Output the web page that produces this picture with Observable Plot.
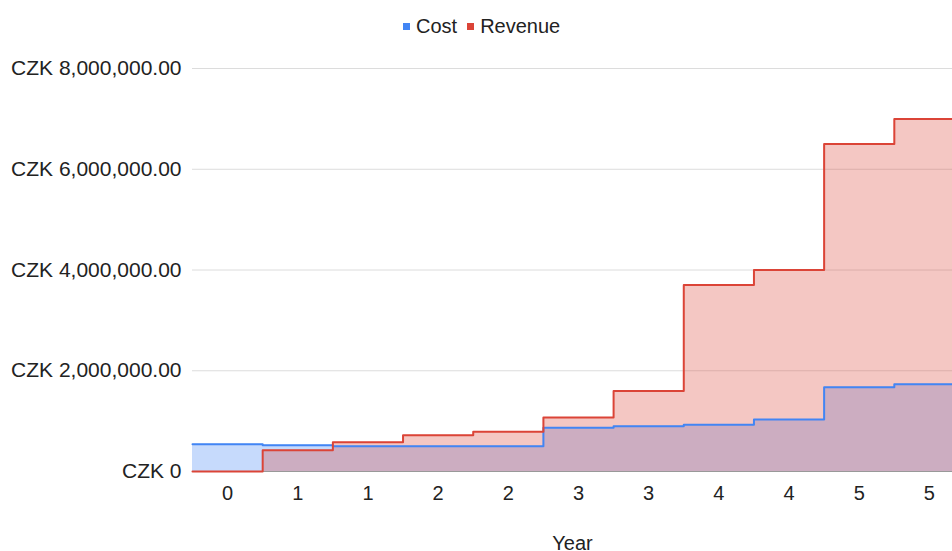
<!DOCTYPE html>
<html>
<head>
<meta charset="utf-8">
<script src="https://cdn.jsdelivr.net/npm/d3@7"></script>
<script src="https://cdn.jsdelivr.net/npm/@observablehq/plot@0.6"></script>
<style>
  html, body { margin: 0; padding: 0; background: #fff; overflow: hidden; }
  body { width: 952px; height: 551px; font-family: "Liberation Sans", Arial, sans-serif; }
  #legend { height: 52px; display: flex; align-items: center; padding-left: 403px; font-size: 20px; color: #222; }
  #legend .item { display: flex; align-items: center; margin-right: 10px; }
  #legend .swatch { width: 7px; height: 7px; margin-right: 6px; }
  #chart svg { display: block; }
</style>
</head>
<body>
<div id="legend"></div>
<div id="chart"></div>
<script>
// Year labels for each period (two periods per year after year 0)
const years = ["0", "1", "1", "2", "2", "3", "3", "4", "4", "5", "5"];
// Cost per period, CZK
const cost = [540000, 520000, 500000, 500000, 500000, 870000, 900000, 930000, 1030000, 1670000, 1730000];
// Revenue per period, CZK
const revenue = [0, 420000, 580000, 720000, 790000, 1070000, 1600000, 3700000, 4000000, 6500000, 7000000];
// Y axis ticks
const yTicks = [0, 2000000, 4000000, 6000000, 8000000];

const seriesNames = ["Cost", "Revenue"];
const seriesColors = ["#4285f4", "#db4437"];
const seriesValues = [cost, revenue];

// Each period becomes a flat step spanning its band
const steps = seriesNames.flatMap((name, s) =>
  seriesValues[s].flatMap((v, i) => [
    {series: name, x: i - 0.5, y: v},
    {series: name, x: i + 0.5, y: v}
  ])
);

const fmtCZK = v => v === 0 ? "CZK 0" : "CZK " + d3.format(",.2f")(v);

const legend = document.getElementById("legend");
seriesNames.forEach((name, s) => {
  const item = document.createElement("div");
  item.className = "item";
  const sw = document.createElement("span");
  sw.className = "swatch";
  sw.style.background = seriesColors[s];
  const label = document.createElement("span");
  label.textContent = name;
  item.append(sw, label);
  legend.append(item);
});

const chart = Plot.plot({
  width: 952,
  height: 499,
  marginTop: 16,
  marginBottom: 80,
  marginLeft: 192,
  marginRight: 0,
  style: {fontFamily: '"Liberation Sans", Arial, sans-serif', fontSize: "20px", color: "#222", background: "#fff"},
  x: {domain: [-0.5, years.length - 0.5], range: [192, 964]},
  y: {domain: [0, 8000000]},
  color: {domain: seriesNames, range: seriesColors},
  marks: [
    Plot.ruleY(yTicks.filter(t => t > 0), {stroke: "#dcdcdc", strokeWidth: 1}),
    Plot.areaY(steps, {x: "x", y1: 0, y2: "y", z: "series", fill: "series", fillOpacity: 0.3}),
    Plot.ruleY([0], {stroke: "#999", strokeWidth: 1}),
    Plot.line(steps, {x: "x", y: "y", z: "series", stroke: "series", strokeWidth: 2}),
    Plot.axisY({ticks: yTicks, tickFormat: fmtCZK, tickSize: 0, tickPadding: 11, label: null, fontSize: 21}),
    Plot.axisX({
      ticks: d3.range(years.length),
      tickFormat: i => years[i],
      tickSize: 0,
      tickPadding: 14,
      label: "Year",
      labelAnchor: "center",
      labelArrow: "none",
      labelOffset: 78
    })
  ]
});
document.getElementById("chart").append(chart);
</script>
</body>
</html>
